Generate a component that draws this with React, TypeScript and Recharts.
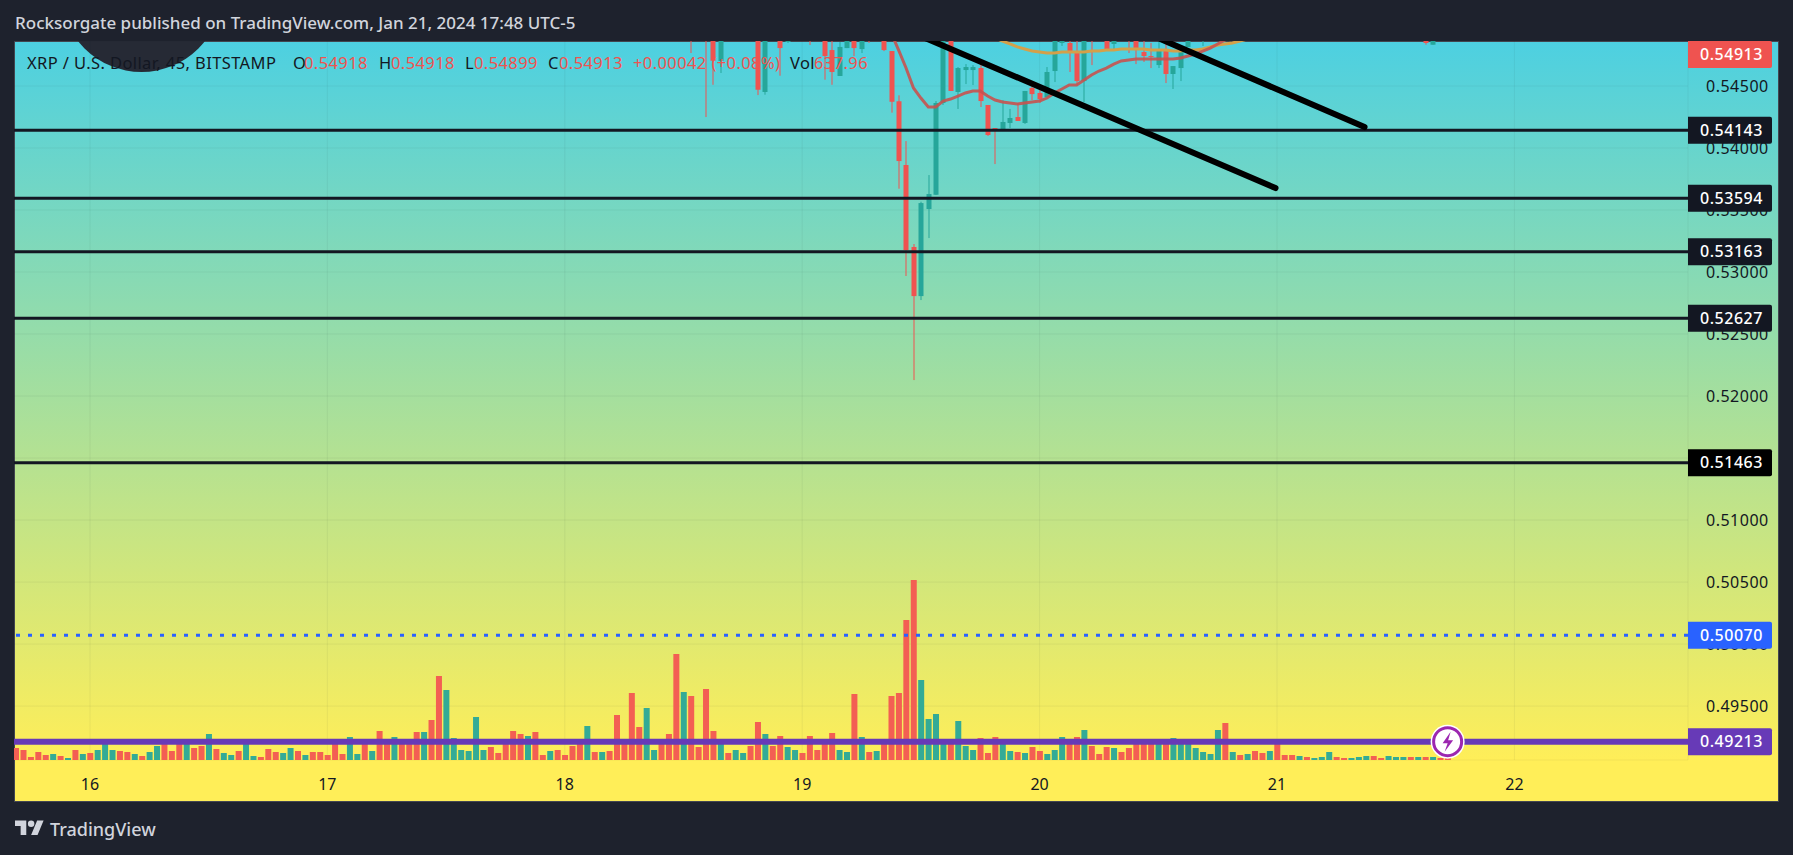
// XRP/USD 45 minute TradingView snapshot rebuilt with Recharts
import {
  ComposedChart, Bar, Line, XAxis, YAxis, CartesianGrid,
  ReferenceLine, ReferenceDot,
} from "recharts";

const FONT = "'Noto Sans', 'Open Sans', sans-serif";
const RED = "#ef5350";
const TEAL = "#26a69a";

const dayLabels = ["16", "17", "18", "19", "20", "21", "22"];
const dayTicks = [0, 32, 64, 96, 128, 160, 192];
const priceTicks = [0.545, 0.54, 0.535, 0.53, 0.525, 0.52, 0.515, 0.51, 0.505, 0.5, 0.495];
const barDomain = [-10.24, 215.4];
const priceDomain = [0.49065, 0.54863];

// volume in thousands, first entry is bar -10
const firstBar = -10;
const volumes = [
  2.4, 2, 0.6, 1.6, 1, 1.2, 0.8, 0.4, 2, 1.2,
  1.4, 2, 3.2, 2, 1.8, 1.6, 1.2, 0.8, 1.6, 2.8,
  3.4, 1.8, 3.4, 3.4, 2.4, 2.8, 5.2, 2.2, 1.4, 1,
  1.8, 3.2, 0.8, 0.6, 2.2, 1.6, 1.4, 2.4, 1.8, 1,
  1.6, 1.6, 1, 3.2, 1.2, 4.6, 1.2, 3.2, 1.8, 5.8,
  3.4, 4.6, 3.4, 3.4, 5.6, 5.6, 8, 16.8, 14, 4.4,
  2, 1.8, 8.6, 2, 2.6, 1.4, 3.2, 5.8, 5.2, 4.8,
  5.6, 1, 1.8, 2, 1, 2.8, 3.2, 6.8, 1.6, 1.6,
  1.8, 9, 3.2, 13.4, 6.6, 10.4, 2, 3.2, 5.2, 21.2,
  13.6, 12.8, 2.6, 14.2, 5.8, 3.2, 1.4, 2, 1.4, 2.8,
  7.6, 5.2, 2.8, 4.8, 2.6, 2, 1.4, 4.8, 2, 3.2,
  5.4, 2, 1.6, 13.2, 4.6, 1.6, 1.8, 3.2, 12.8, 13.4,
  28, 36, 16, 8.2, 9.2, 3.2, 3.2, 7.8, 2.8, 2,
  4.4, 1.4, 4.6, 3.2, 1.8, 1.6, 1.4, 2.6, 1.8, 1.2,
  2, 4.6, 3.2, 4.6, 6, 2.8, 1.2, 2.6, 2.4, 1.6,
  2.4, 3.2, 3.2, 3.2, 3.2, 3.2, 4.4, 3.2, 3.2, 2.4,
  1.6, 1.2, 6, 7.4, 1.6, 1, 1.2, 1.8, 1.4, 1.8,
  3.2, 1, 1, 0.8, 0.6, 0.4, 0.6, 1.6, 0.6, 0.4,
  0.4, 0.6, 0.8, 0.8, 0.4, 0.8, 0.6, 0.6, 0.6, 0.6,
  0.6, 0.6, 0.4, 0.64,
];
// r = down bar, t = up bar, ten per group
const volumeSides = [
  "rrrrrtrtrt", "rtttrrtrtt", "rrrtrrtrtt", "rttrrrttrt", "rrrrrttrtr",
  "rtrrrtrrtt", "ttttrrrrrt", "rrtrrrrtrt", "rrrrrttrrr", "trrrrtrttr",
  "rtrrttrrrr", "rttrtrtrrr", "rrttttrttt", "rrrttrtrrt", "ttrrtrrrtr",
  "rrrrtrtttt", "tttrtrtrrt", "rrrtrtttrr", "tttrrtttrt", "rtrr",
].join("");

// index, open, high, low, close
const candles = [
  [81, 0.5495, 0.55, 0.54766, 0.549],
  [83, 0.5497, 0.55, 0.5425, 0.549],
  [84, 0.5495, 0.55, 0.5451, 0.54704],
  [85, 0.54702, 0.55, 0.54605, 0.5493],
  [90, 0.5495, 0.55, 0.54427, 0.5447],
  [91, 0.54452, 0.55, 0.5443, 0.5495],
  [93, 0.5495, 0.55, 0.54583, 0.54806],
  [94, 0.54855, 0.55, 0.54847, 0.5495],
  [97, 0.5495, 0.55, 0.54831, 0.5492],
  [99, 0.5495, 0.55, 0.54551, 0.54742],
  [100, 0.5479, 0.549, 0.5451, 0.54613],
  [101, 0.54581, 0.54855, 0.54581, 0.54815],
  [102, 0.54806, 0.55, 0.54806, 0.5492],
  [103, 0.5495, 0.55, 0.54742, 0.54806],
  [104, 0.54798, 0.55, 0.54766, 0.5495],
  [105, 0.5495, 0.55, 0.54847, 0.5492],
  [107, 0.5495, 0.55, 0.54782, 0.5479],
  [108, 0.54782, 0.54782, 0.54285, 0.54373],
  [109, 0.54377, 0.54425, 0.53672, 0.53895],
  [110, 0.53863, 0.54056, 0.52968, 0.53177],
  [111, 0.53202, 0.53226, 0.52129, 0.52806],
  [112, 0.52806, 0.53567, 0.52774, 0.53556],
  [113, 0.53508, 0.53782, 0.53274, 0.53629],
  [114, 0.53623, 0.54379, 0.53621, 0.54363],
  [115, 0.54363, 0.5495, 0.54347, 0.549],
  [116, 0.5492, 0.5495, 0.5446, 0.5446],
  [117, 0.54452, 0.54653, 0.54315, 0.54645],
  [118, 0.54629, 0.54677, 0.54516, 0.54653],
  [119, 0.54629, 0.54669, 0.54508, 0.54653],
  [120, 0.54645, 0.54677, 0.54331, 0.54379],
  [121, 0.54347, 0.54347, 0.54097, 0.54105],
  [122, 0.54161, 0.54161, 0.53871, 0.54137],
  [123, 0.54137, 0.54387, 0.54137, 0.5421],
  [124, 0.54202, 0.54315, 0.54161, 0.54242],
  [125, 0.5425, 0.54363, 0.54218, 0.54218],
  [126, 0.54202, 0.5446, 0.54194, 0.5446],
  [127, 0.54484, 0.54508, 0.54387, 0.54435],
  [128, 0.54444, 0.54484, 0.54363, 0.54395],
  [129, 0.54411, 0.54653, 0.54411, 0.54613],
  [130, 0.54621, 0.5495, 0.54532, 0.549],
  [131, 0.54847, 0.5495, 0.54823, 0.54863],
  [132, 0.54847, 0.549, 0.54613, 0.54766],
  [133, 0.54774, 0.549, 0.54508, 0.5454],
  [134, 0.5454, 0.5495, 0.54371, 0.5492],
  [135, 0.5495, 0.55, 0.54669, 0.5492],
  [137, 0.5495, 0.55, 0.5479, 0.5479],
  [138, 0.54839, 0.55, 0.5479, 0.5492],
  [140, 0.5495, 0.55, 0.54766, 0.5492],
  [141, 0.5495, 0.55, 0.54677, 0.5479],
  [142, 0.54774, 0.549, 0.54694, 0.54742],
  [143, 0.54742, 0.54847, 0.54645, 0.54734],
  [144, 0.54669, 0.549, 0.54645, 0.54798],
  [145, 0.5479, 0.5487, 0.54524, 0.54597],
  [146, 0.54597, 0.54661, 0.54476, 0.54661],
  [147, 0.54645, 0.54774, 0.5454, 0.54774],
  [148, 0.54815, 0.5495, 0.54815, 0.549],
  [150, 0.549, 0.5495, 0.54823, 0.5492],
  [180, 0.5495, 0.5497, 0.54833, 0.54847],
  [181, 0.54833, 0.5497, 0.54833, 0.5495],
];

// fast average, index 107 onwards
const fastEmaStart = 107;
const fastEma = [
  0.55032, 0.54927, 0.5479, 0.54645, 0.54484, 0.54403, 0.54331, 0.54331, 0.54379, 0.54395,
  0.54419, 0.54444, 0.5446, 0.5446, 0.54419, 0.54387, 0.54371, 0.54363, 0.54355, 0.54363,
  0.54371, 0.54379, 0.54403, 0.54444, 0.54476, 0.54508, 0.54508, 0.54548, 0.54589, 0.54621,
  0.54645, 0.54677, 0.54702, 0.5471, 0.54718, 0.54718, 0.54718, 0.54718, 0.54718, 0.54718,
  0.54726, 0.54742, 0.54758, 0.54782, 0.54806, 0.54839, 0.54871, 0.54903,
];

// slow average, index 122 onwards
const slowEmaStart = 122;
const slowEma = [
  0.54887, 0.54863, 0.54839, 0.54815, 0.54798, 0.54782, 0.54774, 0.54766, 0.54766, 0.54774,
  0.54774, 0.54774, 0.54774, 0.54782, 0.54782, 0.5479, 0.5479, 0.54798, 0.54798, 0.54798,
  0.54798, 0.5479, 0.5479, 0.5479, 0.54782, 0.54782, 0.5479, 0.5479, 0.54798, 0.54815,
  0.54831, 0.54839, 0.54847, 0.54863, 0.54879,
];

const levelPrices = [0.54143, 0.53594, 0.53163, 0.52627, 0.51463];
const levelTagColors = ["#131722", "#131722", "#131722", "#131722", "#000000"];
const closePrice = "0.54913";
const basePrice = 0.5007;
const lightningPrice = 0.49213;
const lastBar = 183;

// start and end of each drawn trend line: bar, price
const trendLines = [
  [[143.5, 0.549], [171.8, 0.54169]],
  [[112.1, 0.549], [159.8, 0.53677]],
];

const rows = volumes.map((v, n) => {
  const i = firstBar + n;
  const c = candles.find((k) => k[0] === i);
  return {
    i,
    volume: v,
    up: volumeSides[n] === "t",
    open: c?.[1],
    high: c?.[2],
    low: c?.[3],
    close: c?.[4],
    range: c ? [c[3], c[2]] : null,
    fast: fastEma[i - fastEmaStart],
    slow: slowEma[i - slowEmaStart],
  };
});

const VolumeBar = ({ x, y, width, height, payload }: any) => (
  <rect x={x} y={y} width={width} height={height} fill={payload.up ? "#33ab96" : "#f35f53"} />
);

const Candle = ({ x, y, width, height, payload }: any) => {
  const { open, high, low, close } = payload;
  if (open == null) return null;
  const yOf = (p: number) => y + ((high - p) / (high - low || 1)) * height;
  const color = close >= open ? TEAL : RED;
  const top = yOf(Math.max(open, close));
  const bottom = yOf(Math.min(open, close));
  const cx = Math.round(x + width / 2);
  return (
    <g>
      <rect x={cx - 0.5} y={y} width={1} height={height} fill={color} />
      <rect x={cx - 2.5} y={top} width={5} height={Math.max(bottom - top, 1)} fill={color} />
    </g>
  );
};

const PriceTag = ({ viewBox, text, fill }: any) => {
  const x = viewBox.x + viewBox.width;
  const y = viewBox.y;
  return (
    <g>
      <path d={`M${x} ${y - 13.5}h82a2 2 0 0 1 2 2v23a2 2 0 0 1 -2 2h-82z`} fill={fill} />
      <text
        x={x + 43.5}
        y={y + 5.5}
        textAnchor="middle"
        fill="#ffffff"
        fontSize={16}
        fontWeight={500}
        letterSpacing={0.5}
        fontFamily={FONT}
      >
        {text}
      </text>
    </g>
  );
};

const Lightning = ({ cx, cy }: any) => (
  <g>
    <circle cx={cx} cy={cy} r={17} fill="#ffffff" />
    <circle cx={cx} cy={cy} r={14} fill="#ffffff" stroke="#9c27b0" strokeWidth={3} />
    <path d={`M${cx + 3} ${cy - 10}l-8 11.5h5l-3 8.5l8.5 -11.5h-5z`} fill="#9c27b0" />
  </g>
);

const legendBits: [string, number, string][] = [
  ["XRP / U.S. Dollar, 45, BITSTAMP", 27, "#131722"],
  ["O", 293, "#131722"],
  ["0.54918", 304, RED],
  ["H", 379, "#131722"],
  ["0.54918", 391, RED],
  ["L", 465, "#131722"],
  ["0.54899", 474, RED],
  ["C", 548, "#131722"],
  ["0.54913", 559, RED],
  ["+0.00042 (+0.08%)", 633, RED],
  ["Vol", 790, "#131722"],
  ["637.96", 814, RED],
];

export default function App() {
  return (
    <div style={{ position: "absolute", left: 0, top: 0, width: 1793, height: 855, background: "#1e222d", overflow: "hidden", fontFamily: FONT }}>
      <div style={{
        position: "absolute", left: 14, top: 41, width: 1763, height: 759,
        background: "linear-gradient(180deg, #4dd0e1 0%, #ffee58 94.7%, #ffee58 100%)",
        border: "1px solid #434651",
      }} />
      <div style={{ position: "absolute", left: 60.5, top: -89, width: 161, height: 161, borderRadius: "50%", background: "#262a35" }} />

      <div style={{ position: "absolute", left: 0, top: 0 }}>
        <ComposedChart
          width={1793}
          height={855}
          data={rows}
          margin={{ top: 41, right: 15, bottom: 65, left: 14 }}
          barGap={0}
        >
          <CartesianGrid xAxisId="t" yAxisId="price" stroke="#2a2e39" strokeOpacity={0.06} />
          <XAxis
            xAxisId="t"
            type="number"
            dataKey="i"
            domain={barDomain}
            allowDataOverflow
            ticks={dayTicks}
            tickFormatter={(v) => dayLabels[dayTicks.indexOf(v)]}
            height={30}
            axisLine={false}
            tickLine={false}
            tickMargin={13}
            tick={{ fill: "#131722", fontSize: 16, fontFamily: FONT }}
            interval={0}
          />
          <XAxis xAxisId="c" type="number" dataKey="i" domain={barDomain} allowDataOverflow hide height={0} />
          <YAxis
            yAxisId="price"
            orientation="right"
            domain={priceDomain}
            allowDataOverflow
            ticks={priceTicks}
            tickFormatter={(v) => v.toFixed(5)}
            width={90}
            axisLine={false}
            tickLine={false}
            tickMargin={12}
            interval={0}
            tick={{ fill: "#131722", fontSize: 16, letterSpacing: 0.5, fontFamily: FONT }}
          />
          <YAxis yAxisId="vol" domain={[0, 143.8]} hide />

          <Bar xAxisId="t" yAxisId="vol" dataKey="volume" barSize={6} shape={<VolumeBar />} isAnimationActive={false} />
          <Bar xAxisId="c" yAxisId="price" dataKey="range" barSize={6} shape={<Candle />} isAnimationActive={false} />
          <Line xAxisId="t" yAxisId="price" dataKey="slow" stroke="#d4a04a" strokeWidth={3} dot={false} isAnimationActive={false} />
          <Line xAxisId="t" yAxisId="price" dataKey="fast" stroke="#c8524f" strokeOpacity={0.9} strokeWidth={3} dot={false} isAnimationActive={false} />

          {levelPrices.map((p) => (
            <ReferenceLine key={p} xAxisId="t" yAxisId="price" y={p} stroke="#131722" strokeWidth={3} />
          ))}
          <ReferenceLine xAxisId="t" yAxisId="price" y={basePrice} stroke="#2962ff" strokeWidth={3} strokeDasharray="4 8" />
          <ReferenceLine xAxisId="t" yAxisId="price" y={lightningPrice} stroke="#673ab7" strokeWidth={6} />
          {trendLines.map(([a, b]) => (
            <ReferenceLine
              key={a[0]}
              xAxisId="t"
              yAxisId="price"
              ifOverflow="visible"
              segment={[{ x: a[0], y: a[1] }, { x: b[0], y: b[1] }]}
              stroke="#000000"
              strokeWidth={6}
              strokeLinecap="round"
            />
          ))}
          <ReferenceDot xAxisId="t" yAxisId="price" x={lastBar} y={lightningPrice} shape={<Lightning />} />
        </ComposedChart>
      </div>

      {/* second transparent chart so the price tags cover the axis ticks */}
      <div style={{ position: "absolute", left: 0, top: 0 }}>
        <ComposedChart
          width={1793}
          height={855}
          data={rows}
          margin={{ top: 41, right: 105, bottom: 95, left: 14 }}
        >
          <XAxis type="number" dataKey="i" domain={barDomain} allowDataOverflow hide />
          <YAxis domain={priceDomain} allowDataOverflow hide />
          {levelPrices.map((p, n) => (
            <ReferenceLine
              key={p}
              y={p}
              stroke="none"
              label={<PriceTag text={p.toFixed(5)} fill={levelTagColors[n]} />}
            />
          ))}
          <ReferenceLine y={basePrice} stroke="none" label={<PriceTag text="0.50070" fill="#2962ff" />} />
          <ReferenceLine y={lightningPrice} stroke="none" label={<PriceTag text={lightningPrice.toFixed(5)} fill="#673ab7" />} />
          <ReferenceLine
            y={priceDomain[1]}
            stroke="none"
            label={(props: any) => (
              <PriceTag viewBox={{ ...props.viewBox, y: props.viewBox.y + 13.5 }} text={closePrice} fill={RED} />
            )}
          />
        </ComposedChart>
      </div>

      {legendBits.map(([text, x, color], n) => (
        <span
          key={n}
          style={{ position: "absolute", left: x, top: 53, fontSize: 16.5, letterSpacing: 0.4, lineHeight: "20px", color, whiteSpace: "nowrap" }}
        >
          {text}
        </span>
      ))}

      <div style={{ position: "absolute", left: 0, top: 0, width: 1793, height: 41, background: "#1e222d" }}>
        <span style={{ position: "absolute", left: 15, top: 13, fontSize: 17, lineHeight: "20px", fontWeight: 500, color: "#d1d4dc", whiteSpace: "nowrap" }}>
          Rocksorgate published on TradingView.com, Jan 21, 2024 17:48 UTC-5
        </span>
      </div>

      <svg width={29} height={23} viewBox="0 0 36 28" style={{ position: "absolute", left: 15, top: 817 }}>
        <path d="M14 22H7V11H0V4h14v18ZM28 22h-8l7.5-18h8L28 22Z" fill="#d1d4dc" />
        <circle cx={20} cy={8} r={4} fill="#d1d4dc" />
      </svg>
      <span style={{ position: "absolute", left: 50, top: 816, fontSize: 18, lineHeight: "26px", fontWeight: 500, color: "#d1d4dc", whiteSpace: "nowrap" }}>
        TradingView
      </span>
    </div>
  );
}
